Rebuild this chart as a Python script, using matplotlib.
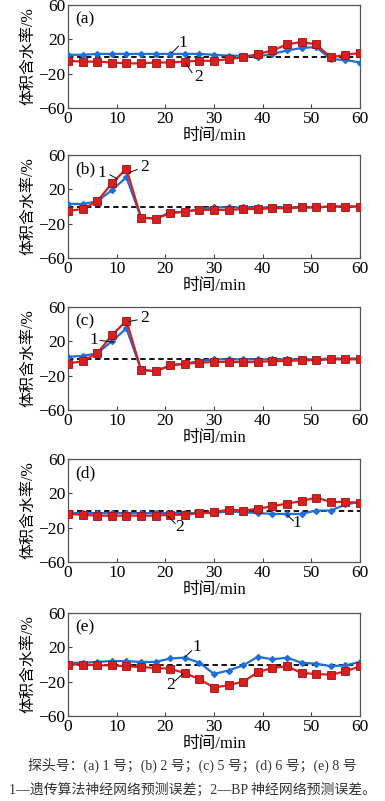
import matplotlib
matplotlib.use("Agg")
import matplotlib.pyplot as plt

plt.rcParams['font.family'] = ['Liberation Serif', 'Noto Sans CJK SC']
plt.rcParams['axes.unicode_minus'] = True

t = [0, 3, 6, 9, 12, 15, 18, 21, 24, 27, 30, 33, 36, 39, 42, 45, 48, 51, 54, 57, 60]

# 1 — 遗传算法神经网络预测误差 (blue), 2 — BP 神经网络预测误差 (red)
ga_a = [2, 2, 3, 3, 3, 3, 3, 3, 3, 3, 2, 1, 1, 0, 3, 7, 10, 11, -3, -4, -7]
bp_a = [-5, -6, -6, -7, -8, -8, -7, -7, -6, -5, -5, -3, -1, 3, 7, 14, 17, 14, -1, 2, 4]

ga_b = [3, 3, 6, 19, 34, -13, -14, -7, -6, -3, -1, -1, -1, -1, -1, -1, -1, -1, 0, 0, 0]
bp_b = [-5, -3, 6, 27, 44, -13, -14, -8, -6, -4, -4, -4, -3, -3, -2, -2, -1, -1, 0, 0, 0]

ga_c = [2, 3, 6, 20, 35, -13, -15, -8, -6, -3, -1, -1, -1, -1, -1, -1, -1, -1, 0, 0, 0]
bp_c = [-6, -3, 6, 27, 44, -13, -15, -8, -6, -5, -4, -4, -4, -4, -3, -3, -2, -2, -1, -1, -1]

ga_d = [-3, -3, -3, -3, -3, -3, -3, -3, -3, -3, -3, -1, -2, -3, -4, -4, -4, 0, 0, 7, 10]
bp_d = [-4, -5, -6, -6, -6, -6, -6, -5, -5, -3, -2, 1, 0, 2, 5, 8, 11, 15, 10, 10, 9]

ga_e = [2, 2, 3, 4, 4, 3, 3, 7, 8, 2, -11, -7, -1, 9, 6, 8, 2, 1, -2, -1, 3]
bp_e = [0, 0, -1, -1, -2, -3, -4, -5, -10, -17, -27, -24, -20, -9, -4, -2, -10, -11, -12, -8, -2]

panels = ["(a)", "(b)", "(c)", "(d)", "(e)"]
ga_all = [ga_a, ga_b, ga_c, ga_d, ga_e]
bp_all = [bp_a, bp_b, bp_c, bp_d, bp_e]

# curve labels: (label, text x, text y, leader x0, y0, x1, y1)
notes = [
    [("1", 23.6, 16, 21.3, 4, 22.7, 12), ("2", 26.8, -24, 24.2, -8, 25.5, -19)],
    [("1", 7.0, 39, 8.6, 37, 10.2, 32), ("2", 15.8, 46, 14.2, 43, 12.6, 39.5)],
    [("1", 5.3, 21, 6.6, 21, 9.4, 19), ("2", 15.8, 47, 14.2, 45, 12.5, 43)],
    [("2", 23.0, -19, 20.6, -7, 22.0, -15), ("1", 47.0, -15, 45.0, -5, 46.3, -12)],
    [("1", 26.4, 20, 24.0, 8.5, 25.4, 16), ("2", 21.0, -24, 22.0, -19, 23.6, -11)],
]

blue = '#1f6fd6'
red = '#d62020'

fig = plt.figure(figsize=(3.85, 8.01), dpi=100)
tops = [5, 155, 307, 459, 613]
h = 103
for i in range(5):
    ax = fig.add_axes([68 / 385, 1 - (tops[i] + h) / 801, 292 / 385, h / 801])
    ax.axhline(0, color='black', ls=(0, (3, 2)), lw=1.3, zorder=1)
    ax.plot(t, ga_all[i], color=blue, lw=1.6, marker='D', ms=3, mec=blue, zorder=3)
    ax.plot(t, bp_all[i], color=red, lw=1.6, marker='s', ms=5.5, mfc=red, mec='#a01010', mew=0.6, zorder=4)
    ax.set_xlim(0, 60)
    ax.set_ylim(-60, 60)
    ax.set_xticks(range(0, 61, 10))
    ax.set_yticks([-60, -20, 20, 60])
    ax.tick_params(direction='in', length=3, labelsize=12.5, pad=2, color='#444444')
    for s in ax.spines.values():
        s.set_color('#555555')
        s.set_linewidth(0.9)
    ax.set_xlabel('时间/min', fontsize=12, labelpad=1)
    ax.set_ylabel('体积含水率/%', fontsize=11.5, labelpad=1)
    ax.text(1.5, 53, panels[i], fontsize=12.5, va='top', ha='left')
    for lab, tx, ty, x0, y0, x1, y1 in notes[i]:
        ax.plot([x0, x1], [y0, y1], color='black', lw=0.7, zorder=5)
        ax.text(tx, ty, lab, fontsize=12.5, ha='center', va='center', zorder=5)

fig.text(0.5, 1 - 765 / 801, '探头号：(a) 1 号；(b) 2 号；(c) 5 号；(d) 6 号；(e) 8 号',
         ha='center', va='center', fontsize=10, color='#333333')
fig.text(0.5, 1 - 790 / 801, '1—遗传算法神经网络预测误差；2—BP 神经网络预测误差。',
         ha='center', va='center', fontsize=10, color='#333333')

fig.savefig('out.png', dpi=100)
